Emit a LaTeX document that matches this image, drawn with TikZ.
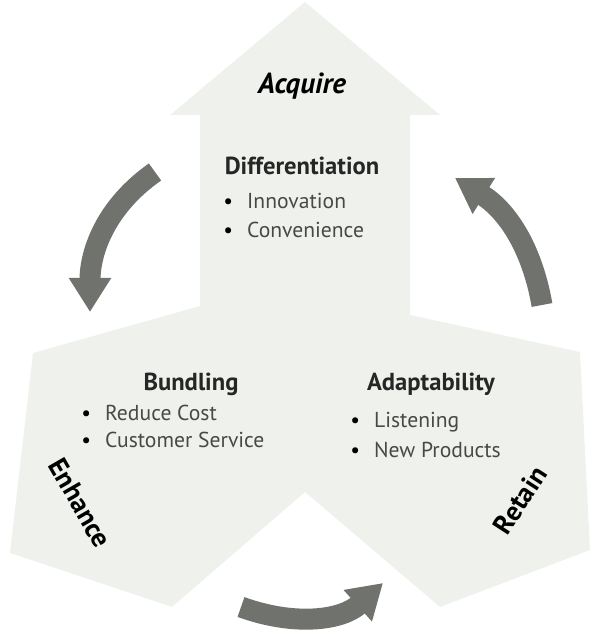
\documentclass[tikz,border=0pt]{standalone}
\usepackage{fontspec}
\setmainfont{PT Sans}
\usetikzlibrary{positioning, arrows.meta}
\definecolor{shapefill}{RGB}{239,242,236}
\definecolor{arrowfill}{RGB}{112,114,110}
\definecolor{itemgray}{RGB}{72,72,72}
\newcommand{\bul}{{\color{black}\textbullet}\hspace{8pt}}

\begin{document}
\begin{tikzpicture}[x=0.02cm, y=0.02cm,
  head/.style={font=\bfseries\fontsize{14}{16}\selectfont, text=black!85, inner sep=0pt},
  item/.style={font=\fontsize{12.3}{14}\selectfont, text=itemgray, inner sep=0pt, anchor=west},
  phase/.style={font=\bfseries\fontsize{15.5}{17}\selectfont, inner sep=0pt},
  cyclearrow/.style={draw=arrowfill, line width=0.42cm, -{Triangle[width=0.8cm, length=0.68cm]}}]
  \useasboundingbox (0,0) rectangle (596,634);

  % Background: three block arrows
  \fill[shapefill] (305,632) -- (440,519) -- (410,519) -- (410,319) -- (580,282)
    -- (590,84) -- (440,27) -- (305,142) -- (172,27) -- (10,81) -- (33,281)
    -- (200,328) -- (200,519) -- (170,519) -- cycle;

  % Acquire
  \node[phase, font=\bfseries\itshape\fontsize{16.5}{18}\selectfont] (acquire) at (302,548) {Acquire};
  \node[head] (diff) at (302,468) {Differentiation};
  \node[item] (innov) at (223,433) {\bul Innovation};
  \node[item, below=0.58cm of innov.west, anchor=west] (conv) {\bul Convenience};

  % Enhance
  \node[head] (bundling) at (191,250) {Bundling};
  \node[item] (reduce) at (81,221) {\bul Reduce Cost};
  \node[item, below=0.54cm of reduce.west, anchor=west] (custserv) {\bul Customer Service};
  \node[phase, rotate=-60] (enhance) at (80,131) {Enhance};

  % Retain
  \node[head] (adapt) at (431,250) {Adaptability};
  \node[item] (listen) at (350,212) {\bul Listening};
  \node[item, below=0.56cm of listen.west, anchor=west] (newprod) {\bul New Products};
  \node[phase, rotate=57] (retain) at (520,134) {Retain};

  % Cycle arrows
  \coordinate (lt) at (155,462);
  \coordinate (lh) at (90,322);
  \coordinate (bt) at (241,27);
  \coordinate (bh) at (383,51);
  \coordinate (rt) at (542,329);
  \coordinate (rh) at (455,456);
  \draw[cyclearrow] (lt) to[out=215, in=90] (lh);
  \draw[cyclearrow] (bt) to[out=-20, in=222] (bh);
  \draw[cyclearrow] (rt) to[out=100, in=-32] (rh);
\end{tikzpicture}
\end{document}
